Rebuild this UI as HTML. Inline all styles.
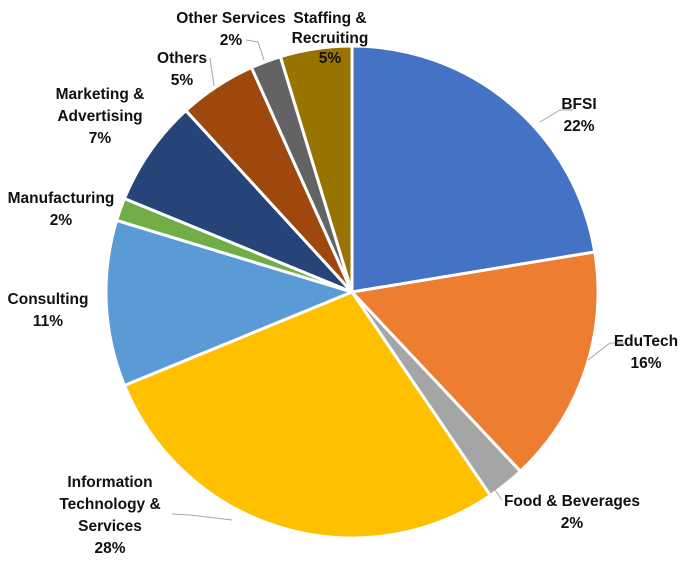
<!DOCTYPE html>
<html><head><style>
body{margin:0;background:#fff;}
svg text{font-family:"Liberation Sans",sans-serif;font-weight:bold;font-size:15.5px;fill:#111;}
</style></head><body>
<svg id="s" width="682" height="569" xmlns="http://www.w3.org/2000/svg">
<g id="p"></g>
<g stroke="#a6a6a6" stroke-width="1" fill="none">
<polyline points="573,110 560,110 540,122"/>
<polyline points="625,343 610,343 588,360"/>
<polyline points="502,500 495,490"/>
<polyline points="172,514 190,515 232,520"/>
<polyline points="246,40 258,42 264,60"/>
<polyline points="210,58 214,86"/>
</g>
<text x="579" y="109" text-anchor="middle">BFSI</text>
<text x="579" y="131" text-anchor="middle">22%</text>
<text x="646" y="346" text-anchor="middle">EduTech</text>
<text x="646" y="368" text-anchor="middle">16%</text>
<text x="572" y="506" text-anchor="middle">Food &amp; Beverages</text>
<text x="572" y="528" text-anchor="middle">2%</text>
<text x="110" y="487" text-anchor="middle">Information</text>
<text x="110" y="509" text-anchor="middle">Technology &amp;</text>
<text x="110" y="531" text-anchor="middle">Services</text>
<text x="110" y="553" text-anchor="middle">28%</text>
<text x="48" y="304" text-anchor="middle">Consulting</text>
<text x="48" y="326" text-anchor="middle">11%</text>
<text x="61" y="203" text-anchor="middle">Manufacturing</text>
<text x="61" y="225" text-anchor="middle">2%</text>
<text x="100" y="99" text-anchor="middle">Marketing &amp;</text>
<text x="100" y="121" text-anchor="middle">Advertising</text>
<text x="100" y="143" text-anchor="middle">7%</text>
<text x="182" y="63" text-anchor="middle">Others</text>
<text x="182" y="85" text-anchor="middle">5%</text>
<text x="231" y="23" text-anchor="middle">Other Services</text>
<text x="231" y="45" text-anchor="middle">2%</text>
<text x="330" y="23" text-anchor="middle">Staffing &amp;</text>
<text x="330" y="43" text-anchor="middle">Recruiting</text>
<text x="330" y="63" text-anchor="middle">5%</text>
</svg>
<script>
var cx=352,cy=292,r=246;
var b=[0,22.4,38,40.5,68.8,79.7,81.2,88.2,93.3,95.3,100];
var c=["#4472C4","#ED7D31","#A5A5A5","#FFC000","#5B9BD5","#70AD47","#264478","#9E480E","#636363","#997300"];
var g=document.getElementById("p"),h="";
function pt(p){var a=p/100*2*Math.PI;return [cx+r*Math.sin(a),cy-r*Math.cos(a)];}
for(var i=0;i<10;i++){var s=pt(b[i]),e=pt(b[i+1]);var l=(b[i+1]-b[i])>50?1:0;
h+='<path d="M'+cx+','+cy+' L'+s[0]+','+s[1]+' A'+r+','+r+' 0 '+l+' 1 '+e[0]+','+e[1]+' Z" fill="'+c[i]+'" stroke="#fff" stroke-width="3" stroke-linejoin="round"/>';}
g.innerHTML=h;
</script>
</body></html>
